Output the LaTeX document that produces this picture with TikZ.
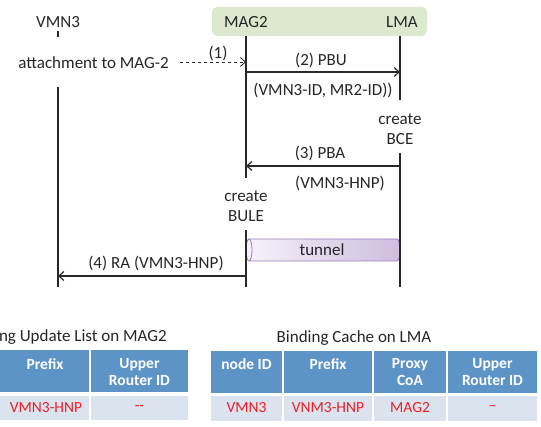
\documentclass[tikz,border=0pt]{standalone}
\usepackage{fontspec}
\setmainfont{Carlito}
\usetikzlibrary{arrows.meta}
\definecolor{boxgreen}{RGB}{221,233,207}
\definecolor{hdrblue}{RGB}{93,148,200}
\definecolor{rowblue}{RGB}{219,227,239}
\definecolor{redtxt}{RGB}{232,32,40}
\definecolor{tunL}{RGB}{246,242,250}
\definecolor{tunR}{RGB}{205,190,222}
\definecolor{tunB}{RGB}{150,125,185}
\definecolor{lifeC}{RGB}{40,40,40}
\begin{document}
\begin{tikzpicture}[x=1pt,y=1pt,
 lbl/.style={font=\fontsize{17}{20}\selectfont, inner sep=0pt, text=black!85, align=center},
 life/.style={draw=lifeC, line width=1.3pt},
 msg/.style={draw=lifeC, line width=1.2pt, -{Straight Barb[length=5pt,width=9pt]}},
 hdrtxt/.style={font=\fontsize{15.5}{17}\selectfont\bfseries, text=white, inner sep=0pt, align=center},
 celltxt/.style={font=\fontsize{15.5}{17}\selectfont, text=redtxt, inner sep=0pt},
 hdrcell/.style={fill=hdrblue},
 rowcell/.style={fill=rowblue}]
\useasboundingbox (0,0) rectangle (541,427);

% header box
\node (hbox) [fill=boxgreen, rounded corners=5pt, minimum width=215pt, minimum height=29pt, inner sep=0pt] at (319.5,405.5) {};
\node[lbl] (vmn) at (58,405) {VMN3};
\node[lbl] (mag) at (246,405) {MAG2};
\node[lbl] (lma) at (402,405) {LMA};

% tunnel
\shade[left color=tunL, right color=tunR] (249,188) -- (397,188) arc[start angle=90, end angle=-90, x radius=3, y radius=11] -- (249,166) arc[start angle=-90, end angle=-270, x radius=3, y radius=11] -- cycle;
\draw[tunB, line width=0.8pt] (249,188) -- (397,188) arc[start angle=90, end angle=-90, x radius=3, y radius=11] -- (249,166);
\filldraw[fill=tunL, draw=tunB, line width=0.8pt] (249,177) ellipse [x radius=3, y radius=11];
\node[lbl] (tun) at (322,177) {tunnel};

% lifelines
\coordinate (v0) at (58,395.5); \coordinate (v1) at (58,389.5);
\coordinate (v2) at (58,340);   \coordinate (v3) at (58,140);
\coordinate (m0) at (246,391);  \coordinate (m1) at (246,249);
\coordinate (m2) at (246,197);  \coordinate (m3) at (246,140);
\coordinate (l0) at (400,391);  \coordinate (l1) at (400,327);
\coordinate (l2) at (400,274);  \coordinate (l3) at (400,140);
\draw[life] (v0) -- (v1);
\draw[life] (v2) -- (v3);
\draw[life] (m0) -- (m1);
\draw[life] (m2) -- (m3);
\draw[life] (l0) -- (l1);
\draw[life] (l2) -- (l3);

% messages
\node[lbl] (att) at (93.5,364) {attachment to MAG-2};
\coordinate (a1s) at (180,365); \coordinate (a1e) at (246,365);
\draw[msg, dashed, line width=0.9pt] (a1s) -- (a1e);
\node[lbl] (l1txt) at (218,374) {(1)};

\coordinate (a2s) at (246,355); \coordinate (a2e) at (400,355);
\draw[msg] (a2s) -- (a2e);
\node[lbl] (pbu) at (321,367) {(2) PBU};
\node[lbl] (pbuarg) at (323,337) {(VMN3-ID, MR2-ID))};

\node[lbl] (bce) at (400,298) {create\\BCE};

\coordinate (a3s) at (400,261); \coordinate (a3e) at (246,261);
\draw[msg] (a3s) -- (a3e);
\node[lbl] (pba) at (320,274) {(3) PBA};
\node[lbl] (pbaarg) at (340,244) {(VMN3-HNP)};

\node[lbl] (bule) at (246,221) {create\\BULE};

\coordinate (a4s) at (246,151); \coordinate (a4e) at (58,151);
\draw[msg] (a4s) -- (a4e);
\node[lbl] (ra) at (156,164) {(4) RA (VMN3-HNP)};

% left table
\node[lbl, anchor=east] (bultitle) at (167,90) {Binding Update List on MAG2};
\fill[hdrcell] (0,35) rectangle (89,77);
\fill[hdrcell] (91,35) rectangle (188,77);
\fill[rowcell] (0,7) rectangle (89,31);
\fill[rowcell] (91,7) rectangle (188,31);
\node[hdrtxt] (bh1) at (45,63) {Prefix};
\node[hdrtxt] (bh2) at (139.5,54.5) {Upper\\Router ID};
\node[celltxt] (br1) at (46,19) {VMN3-HNP};
\node[celltxt] (br2) at (139.5,19) {-{}-};

% right table
\node[lbl] (bctitle) at (354,89) {Binding Cache on LMA};
\fill[hdrcell] (211,34) rectangle (282,76);
\fill[hdrcell] (284,34) rectangle (372,76);
\fill[hdrcell] (374,34) rectangle (446,76);
\fill[hdrcell] (448,34) rectangle (537,76);
\fill[rowcell] (211,6) rectangle (282,31);
\fill[rowcell] (284,6) rectangle (372,31);
\fill[rowcell] (374,6) rectangle (446,31);
\fill[rowcell] (448,6) rectangle (537,31);
\node[hdrtxt] (ch1) at (246.5,63) {node ID};
\node[hdrtxt] (ch2) at (328,63) {Prefix};
\node[hdrtxt] (ch3) at (410,54.5) {Proxy\\CoA};
\node[hdrtxt] (ch4) at (492.5,54.5) {Upper\\Router ID};
\node[celltxt] (cr1) at (246.5,19) {VMN3};
\node[celltxt] (cr2) at (328,19) {VNM3-HNP};
\node[celltxt] (cr3) at (410,19) {MAG2};
\node[celltxt] (cr4) at (492.5,19) {\textendash};
\end{tikzpicture}
\end{document}
